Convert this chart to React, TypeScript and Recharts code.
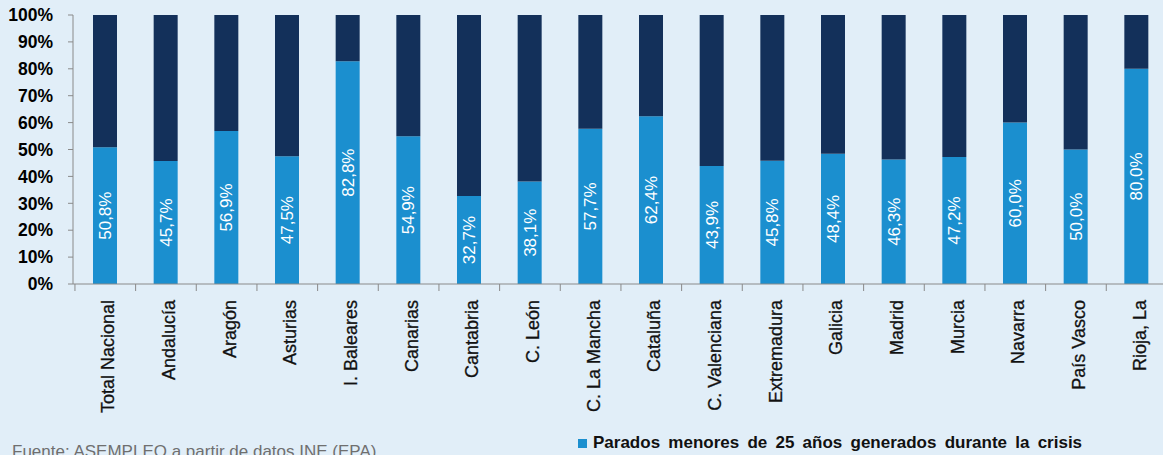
import React from 'react';
import { BarChart, Bar, XAxis, YAxis, Legend, LabelList } from 'recharts';

// Comunidades autónomas
const regiones = [
    'Total Nacional', 'Andalucía', 'Aragón', 'Asturias', 'I. Baleares', 'Canarias',
    'Cantabria', 'C. León', 'C. La Mancha', 'Cataluña', 'C. Valenciana', 'Extremadura',
    'Galicia', 'Madrid', 'Murcia', 'Navarra', 'País Vasco', 'Rioja, La',
];

// % de parados menores de 25 años generados durante la crisis
const paradosCrisis = [50.8, 45.7, 56.9, 47.5, 82.8, 54.9, 32.7, 38.1, 57.7, 62.4, 43.9, 45.8, 48.4, 46.3, 47.2, 60.0, 50.0, 80.0];

// resto hasta el 100%
const resto = [49.2, 54.3, 43.1, 52.5, 17.2, 45.1, 67.3, 61.9, 42.3, 37.6, 56.1, 54.2, 51.6, 53.7, 52.8, 40.0, 50.0, 20.0];

const yTicks = [0, 10, 20, 30, 40, 50, 60, 70, 80, 90, 100];

const data = regiones.map((region, i) => ({
    region,
    parados: paradosCrisis[i],
    resto: resto[i],
}));

const FONT = '"Liberation Sans", Arial, Helvetica, sans-serif';
const AXIS = '#8a8a8a';
const TICK_SIZE = 0;
const TICK_MARGIN = 16;

const pct = (v: number) => `${v.toFixed(1).replace('.', ',')}%`;

const RegionTick = (props: any) => {
    const { x, y, payload, width, visibleTicksCount, index } = props;
    const axisY = y - TICK_SIZE - TICK_MARGIN;
    const bw = (width || 0) / (visibleTicksCount || 1);
    return (
        <g>
            <line x1={x - bw / 2} x2={x - bw / 2} y1={axisY} y2={axisY + 7} stroke={AXIS} />
            {index === visibleTicksCount - 1 && (
                <line x1={x + bw / 2} x2={x + bw / 2} y1={axisY} y2={axisY + 7} stroke={AXIS} />
            )}
            <g transform={`translate(${x},${y})`}>
                <text
                    transform="rotate(-90)"
                    textAnchor="end"
                    dy={9}
                    fontSize={18}
                    fill="#111"
                    stroke="#111"
                    strokeWidth={0.3}
                    fontFamily={FONT}
                >
                    {payload.value}
                </text>
            </g>
        </g>
    );
};

const LegendBox = (props: any) => {
    const items = (props.payload || []).filter((p: any) => p.type !== 'none');
    return (
        <div style={{ display: 'flex', alignItems: 'center', fontFamily: FONT }}>
            {items.map((item: any) => (
                <div key={item.value} style={{ display: 'flex', alignItems: 'center' }}>
                    <span style={{ width: 9, height: 9, background: item.color, marginRight: 6, display: 'inline-block' }} />
                    <span style={{ fontSize: 17, fontWeight: 'bold', color: '#111', wordSpacing: 3.5 }}>{item.value}</span>
                </div>
            ))}
        </div>
    );
};

export default function App() {
    return (
        <div style={{ position: 'fixed', left: 0, top: 0, width: 1163, height: 455, overflow: 'hidden', background: '#e1eef8' }}>
            <BarChart width={1170} height={455} data={data} margin={{ top: 15, right: 3, left: 0, bottom: 0 }} barSize={24}>
                <XAxis
                    dataKey="region"
                    interval={0}
                    height={171}
                    padding={{ left: 2, right: 0 }}
                    stroke={AXIS}
                    tickLine={false}
                    tickSize={TICK_SIZE}
                    tickMargin={TICK_MARGIN}
                    tick={<RegionTick />}
                />
                <YAxis
                    width={73}
                    domain={[0, 100]}
                    ticks={yTicks}
                    interval={0}
                    stroke={AXIS}
                    tickSize={5}
                    tickMargin={15}
                    tickFormatter={(v) => `${v}%`}
                    tick={{ fill: '#000', fontSize: 17.5, fontWeight: 'bold', fontFamily: FONT }}
                />
                <Legend
                    layout="horizontal"
                    verticalAlign="middle"
                    align="center"
                    content={<LegendBox />}
                    wrapperStyle={{ top: 433, left: 578, width: 580, height: 22 }}
                />
                <Bar
                    dataKey="parados"
                    name="Parados menores de 25 años generados durante la crisis"
                    stackId="a"
                    fill="#1b8fcf"
                    isAnimationActive={false}
                >
                    <LabelList
                        dataKey="parados"
                        position="center"
                        angle={-90}
                        formatter={(v: any) => pct(Number(v))}
                        fill="#fff"
                        fontSize={17}
                        fontFamily={FONT}
                    />
                </Bar>
                <Bar dataKey="resto" stackId="a" fill="#13305a" legendType="none" isAnimationActive={false} />
            </BarChart>
            <div style={{ position: 'absolute', left: 12, top: 443, fontSize: 17, lineHeight: '17px', color: '#6f6f6f', fontFamily: FONT, whiteSpace: 'nowrap' }}>
                Fuente: ASEMPLEO a partir de datos INE (EPA)
            </div>
        </div>
    );
}
